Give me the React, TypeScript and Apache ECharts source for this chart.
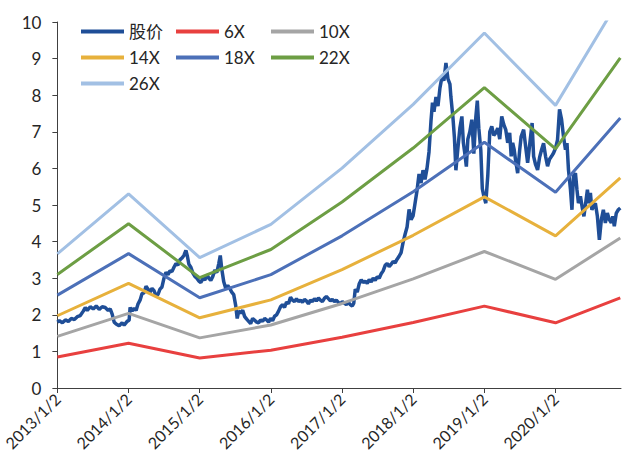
import React, { useEffect, useRef } from "react";
import * as echarts from "echarts";

// x values: years elapsed since 2013/1/2
const tickYears = [0, 1, 2, 3, 4, 5, 6, 7];
const bandYears = [0, 1, 2, 3, 4, 5, 6, 7, 7.91];
const bandEps = [0.141, 0.204, 0.137, 0.172, 0.231, 0.298, 0.373, 0.297, 0.41];
const bandNames = ["6X", "10X", "14X", "18X", "22X", "26X"];
const bandMultiples = [6, 10, 14, 18, 22, 26];
const bandColors = ["#E8403F", "#A5A5A5", "#E7B13C", "#4C70B8", "#6D9E44", "#A2C0E4"];

const priceName = "股价";
const priceYears = [
  0, 0.028, 0.07, 0.112, 0.154, 0.196, 0.238, 0.28, 0.322, 0.364, 0.392, 0.42, 0.462, 0.504, 0.546, 0.588, 0.63, 0.672, 0.714, 0.742, 0.77, 0.798, 0.826, 0.868, 0.91, 0.938, 0.98, 1.008,
  1.022, 1.05, 1.078, 1.106, 1.134, 1.162, 1.19, 1.218, 1.246, 1.274, 1.302, 1.33, 1.358, 1.386, 1.414, 1.442, 1.47, 1.498, 1.526, 1.554, 1.582, 1.61, 1.638, 1.666, 1.694, 1.722, 1.75, 1.778, 1.806, 1.827, 1.848, 1.876, 1.904, 1.932, 1.96, 1.988, 2.016,
  2.044, 2.072, 2.1, 2.128, 2.156, 2.184, 2.212, 2.24, 2.268, 2.289, 2.31, 2.338, 2.366, 2.394, 2.422, 2.45, 2.478, 2.506, 2.527, 2.548, 2.576, 2.604, 2.632, 2.66, 2.688, 2.716, 2.744, 2.772, 2.8, 2.828, 2.856, 2.884, 2.912, 2.94, 2.968, 2.996,
  3.024, 3.052, 3.08, 3.108, 3.136, 3.164, 3.192, 3.22, 3.248, 3.276, 3.304, 3.332, 3.36, 3.388, 3.416, 3.444, 3.472, 3.5, 3.528, 3.556, 3.584, 3.612, 3.64, 3.668, 3.696, 3.724, 3.752, 3.78, 3.808, 3.836, 3.864, 3.892, 3.92, 3.948, 3.976,
  4.004, 4.032, 4.06, 4.088, 4.116, 4.144, 4.165, 4.186, 4.214, 4.242, 4.27, 4.298, 4.326, 4.354, 4.382, 4.41, 4.438, 4.466, 4.494, 4.522, 4.55, 4.578, 4.606, 4.634, 4.662, 4.69, 4.718, 4.746, 4.774, 4.802, 4.83, 4.858, 4.886, 4.914, 4.942, 4.97, 4.998, 5.026,
  5.054, 5.082, 5.11, 5.138, 5.166, 5.194, 5.222, 5.25, 5.271, 5.292, 5.32, 5.348, 5.376, 5.404, 5.432, 5.46, 5.488, 5.516, 5.53, 5.558, 5.579, 5.6, 5.628, 5.656, 5.684, 5.705, 5.726, 5.747, 5.768, 5.796, 5.824, 5.852, 5.88, 5.901, 5.922, 5.95, 5.971, 5.992, 6.02, 6.048, 6.076,
  6.104, 6.132, 6.16, 6.188, 6.216, 6.244, 6.272, 6.3, 6.328, 6.356, 6.377, 6.398, 6.419, 6.44, 6.468, 6.496, 6.517, 6.552, 6.58, 6.608, 6.629, 6.671, 6.692, 6.72, 6.748, 6.776, 6.804, 6.832, 6.86, 6.888, 6.916, 6.944, 6.972, 7.0,
  7.028, 7.056, 7.084, 7.112, 7.14, 7.161, 7.182, 7.21, 7.231, 7.252, 7.28, 7.301, 7.322, 7.35, 7.378, 7.399, 7.42, 7.448, 7.469, 7.49, 7.511, 7.532, 7.56, 7.588, 7.616, 7.644, 7.672, 7.7, 7.728, 7.756, 7.784, 7.805, 7.826, 7.854, 7.882, 7.91,
];
const priceValues = [
  1.8, 1.84, 1.78, 1.86, 1.82, 1.9, 1.87, 1.95, 1.98, 2.1, 2.2, 2.12, 2.22, 2.16, 2.24, 2.15, 2.22, 2.2, 2.12, 2.16, 2.02, 1.8, 1.75, 1.7, 1.78, 1.72, 1.82, 1.85,
  2.2, 2.1, 2.18, 2.12, 2.3, 2.4, 2.58, 2.6, 2.78, 2.7, 2.62, 2.72, 2.66, 2.52, 2.56, 2.7, 2.76, 3.0, 3.16, 3.1, 3.2, 3.18, 3.3, 3.4, 3.36, 3.5, 3.55, 3.62, 3.76, 3.6, 3.38, 3.3, 3.14, 3.05, 3.0, 2.92, 2.88,
  3.0, 2.95, 3.1, 3.0, 2.94, 3.05, 3.22, 3.15, 3.4, 3.62, 3.25, 2.9, 2.72, 2.8, 2.72, 2.62, 2.55, 2.25, 1.9, 2.1, 2.05, 2.12, 1.95, 1.88, 1.82, 1.76, 1.9, 1.85, 1.8, 1.78, 1.86, 1.82, 1.9, 1.86, 1.8, 1.9,
  1.84, 1.96, 2.0, 2.1, 2.22, 2.28, 2.2, 2.35, 2.3, 2.48, 2.4, 2.36, 2.44, 2.36, 2.4, 2.34, 2.42, 2.38, 2.3, 2.4, 2.36, 2.44, 2.38, 2.46, 2.4, 2.36, 2.45, 2.5, 2.44, 2.38, 2.42, 2.36, 2.4, 2.34, 2.3,
  2.36, 2.32, 2.28, 2.34, 2.28, 2.24, 2.32, 2.7, 2.62, 2.85, 2.96, 2.88, 2.92, 2.86, 2.96, 2.9, 3.0, 2.94, 3.04, 3.0, 3.12, 3.2, 3.35, 3.4, 3.32, 3.38, 3.46, 3.42, 3.52, 3.6, 3.7, 3.98, 4.2, 4.4, 4.88, 4.6, 4.7, 5.05,
  5.4, 5.85, 5.6, 5.95, 5.7, 6.0, 6.45, 7.3, 7.8, 7.55, 7.95, 7.7, 8.2, 8.5, 8.4, 8.88, 8.45, 8.3, 7.95, 7.4, 6.85, 5.95, 6.55, 7.1, 7.42, 6.7, 6.4, 6.05, 6.8, 7.0, 7.33, 6.4, 7.4, 7.85, 7.1, 6.5, 5.45, 5.25, 5.05, 5.8, 7.0,
  7.15, 6.9, 6.97, 7.1, 6.8, 7.42, 7.2, 7.06, 6.7, 6.97, 6.33, 6.7, 6.51, 6.2, 5.87, 6.5, 6.87, 7.06, 6.6, 6.15, 6.51, 7.24, 6.33, 6.1, 5.96, 6.3, 6.51, 6.69, 6.33, 6.06, 6.25, 6.33, 6.42, 6.55,
  6.78, 7.61, 7.35, 6.87, 6.51, 6.69, 5.96, 5.42, 4.87, 5.78, 5.87, 5.42, 5.05, 5.24, 4.9, 4.69, 5.0, 5.42, 5.05, 5.33, 4.87, 4.95, 5.05, 4.69, 4.05, 4.6, 4.87, 4.51, 4.78, 4.6, 4.51, 4.69, 4.42, 4.78, 4.87, 4.92,
];
const priceColor = "#1F4E97";

const yTicks = [0, 10, 1];

export default function App() {
  const ref = useRef<HTMLDivElement>(null);
  useEffect(() => {
    if (!ref.current) return;
    const chart = echarts.init(ref.current, null, { renderer: "svg" });
    const font = "Lato, 'Noto Sans CJK SC', sans-serif";
    const textColor = "#262626";
    const priceData = priceYears.map((t, i) => [t, priceValues[i]]);
    const bandSeries = bandNames.map((name, k) => ({
      name,
      type: "line",
      data: bandYears.map((t, i) => [t, +(bandEps[i] * bandMultiples[k]).toFixed(3)]),
      showSymbol: false,
      symbol: "none",
      lineStyle: { color: bandColors[k], width: 3 },
      itemStyle: { color: bandColors[k] },
      z: 2,
    }));
    const legendBase = {
      orient: "vertical",
      top: 18,
      icon: "rect",
      itemWidth: 43,
      itemHeight: 4,
      itemGap: 9,
      textStyle: { fontSize: 17, color: textColor, fontFamily: font },
    };
    chart.setOption({
      animation: false,
      backgroundColor: "#ffffff",
      grid: { left: 55, right: 15, top: 22, bottom: 81, containLabel: false },
      legend: [
        { ...legendBase, left: 76, data: [priceName, "14X", "26X"] },
        { ...legendBase, left: 171, data: ["6X", "18X"] },
        { ...legendBase, left: 266, data: ["10X", "22X"] },
      ],
      xAxis: {
        type: "value",
        min: 0,
        max: 7.92,
        interval: 1,
        splitLine: { show: false },
        axisLine: { show: true, onZero: false, lineStyle: { color: "#404040", width: 1 } },
        axisTick: { show: true, length: 5, customValues: tickYears, lineStyle: { color: "#404040" } },
        axisLabel: {
          customValues: tickYears,
          rotate: 45,
          margin: 8,
          fontSize: 16,
          color: textColor,
          fontFamily: font,
          formatter: (v: number) => (Number.isInteger(v) && v <= 7 ? `${2013 + v}/1/2` : ""),
        },
      },
      yAxis: {
        type: "value",
        min: yTicks[0],
        max: yTicks[1],
        interval: yTicks[2],
        splitLine: { show: false },
        axisLine: { show: true, lineStyle: { color: "#404040", width: 1 } },
        axisTick: { show: true, length: 5, lineStyle: { color: "#404040" } },
        axisLabel: { fontSize: 17, color: textColor, fontFamily: font, margin: 16 },
      },
      series: [
        {
          name: priceName,
          type: "line",
          data: priceData,
          showSymbol: false,
          symbol: "none",
          lineStyle: { color: priceColor, width: 3.5 },
          itemStyle: { color: priceColor },
          z: 1,
        },
        ...bandSeries,
      ],
    });
    return () => chart.dispose();
  }, []);
  return (
    <div
      ref={ref}
      style={{ position: "fixed", left: 0, top: 0, width: 636, height: 469 }}
    />
  );
}
